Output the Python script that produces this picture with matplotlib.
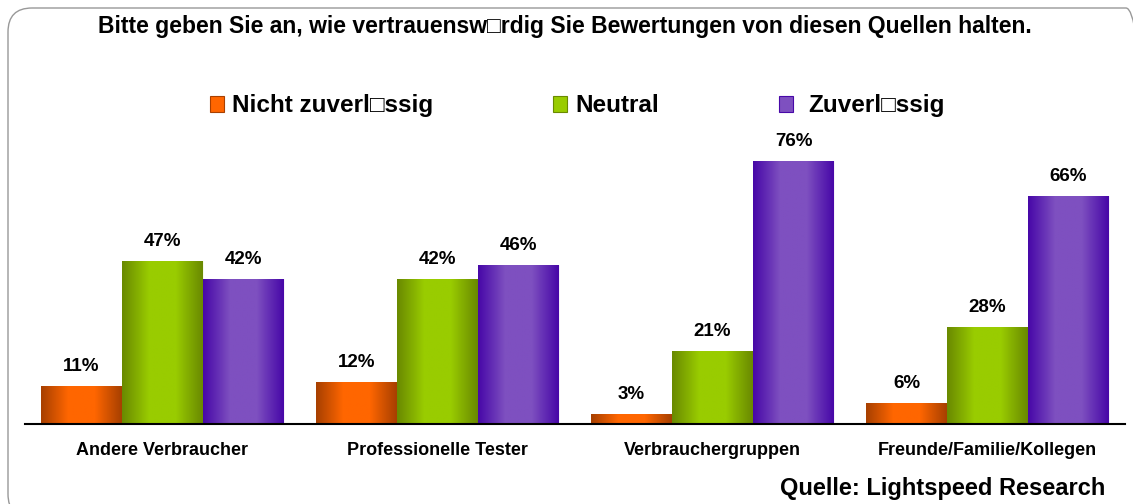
import numpy as np
import matplotlib
matplotlib.use("Agg")
import matplotlib.pyplot as plt
from matplotlib.colors import LinearSegmentedColormap
from matplotlib.patches import FancyBboxPatch, Rectangle
from matplotlib.transforms import IdentityTransform

plt.rcParams['font.family'] = ['Liberation Sans', 'DejaVu Sans']
plt.rcParams['font.weight'] = 'bold'

title = "Bitte geben Sie an, wie vertrauensw\u25a1rdig Sie Bewertungen von diesen Quellen halten."
categories = ["Andere Verbraucher", "Professionelle Tester", "Verbrauchergruppen", "Freunde/Familie/Kollegen"]
series_names = ["Nicht zuverl\u25a1ssig", "Neutral", "Zuverl\u25a1ssig"]
nicht = [11, 12, 3, 6]
neutral = [47, 42, 21, 28]
zuverl = [42, 46, 76, 66]
source = "Quelle: Lightspeed Research"

# dark edge, light middle
shades = [("#A84000", "#FF6600"), ("#6A8A00", "#99CC00"), ("#4808A8", "#7E50C0")]


def gradient_bar(ax, bar, dark, light):
    cmap = LinearSegmentedColormap.from_list("g", [dark, light, light, dark])
    x0, y0 = bar.get_x(), bar.get_y()
    w, h = bar.get_width(), bar.get_height()
    grad = np.linspace(0, 1, 64).reshape(1, -1)
    im = ax.imshow(grad, cmap=cmap, aspect="auto", extent=(x0, x0 + w, y0, y0 + h),
                   zorder=2, interpolation="bilinear")
    im.set_clip_path(bar)


fig = plt.figure(figsize=(11.33, 5.04), dpi=100)
W, H = 1133, 504

border = FancyBboxPatch((8, -14), 1142, H - 8 + 14, boxstyle="round,pad=0,rounding_size=24",
                        transform=IdentityTransform(), facecolor="none", edgecolor="#999999",
                        linewidth=1.0, zorder=-1)
fig.patches.append(border)

ax = fig.add_axes([25 / W, (H - 424) / H, 1100 / W, 324 / H])
ax.set_xlim(-0.5, 3.5)
ax.set_ylim(0, 324 / 3.46)

x = np.arange(len(categories))
bw = 81 / 275
for i, vals in enumerate([nicht, neutral, zuverl]):
    bars = ax.bar(x + (i - 1) * bw, vals, width=bw, color=shades[i][1],
                  edgecolor="white", linewidth=0.6, zorder=1)
    for b, v in zip(bars, vals):
        gradient_bar(ax, b, *shades[i])
        ax.annotate(f"{v}%", (b.get_x() + b.get_width() / 2, v), xytext=(0, 8),
                    textcoords="offset points", ha="center", va="bottom",
                    fontsize=13.5, fontweight="bold")

for s in ["top", "left", "right"]:
    ax.spines[s].set_visible(False)
ax.spines["bottom"].set_linewidth(1.5)
ax.spines["bottom"].set_zorder(3)
ax.set_yticks([])
ax.set_xticks(x)
ax.set_xticklabels(categories, fontsize=13, fontweight="bold")
ax.tick_params(axis="x", length=0, pad=13)
ax.patch.set_alpha(0)

fig.text(565 / W, 1 - 27 / H, title, ha="center", va="center", fontsize=16.5, fontweight="bold")

# legend
leg = [(210, 232), (553, 575), (779, 808)]
for (sx, tx), name, (dark, light) in zip(leg, series_names, shades):
    fig.patches.append(Rectangle((sx / W, 1 - 112 / H), 14 / W, 16 / H, transform=fig.transFigure,
                                 facecolor=light, edgecolor=dark, linewidth=0.8))
    fig.text(tx / W, 1 - 112 / H, name, ha="left", va="baseline", fontsize=17.5, fontweight="bold")

fig.text(1105 / W, 1 - 489 / H, source, ha="right", va="center", fontsize=17, fontweight="bold")

fig.savefig("out.png", dpi=100)
